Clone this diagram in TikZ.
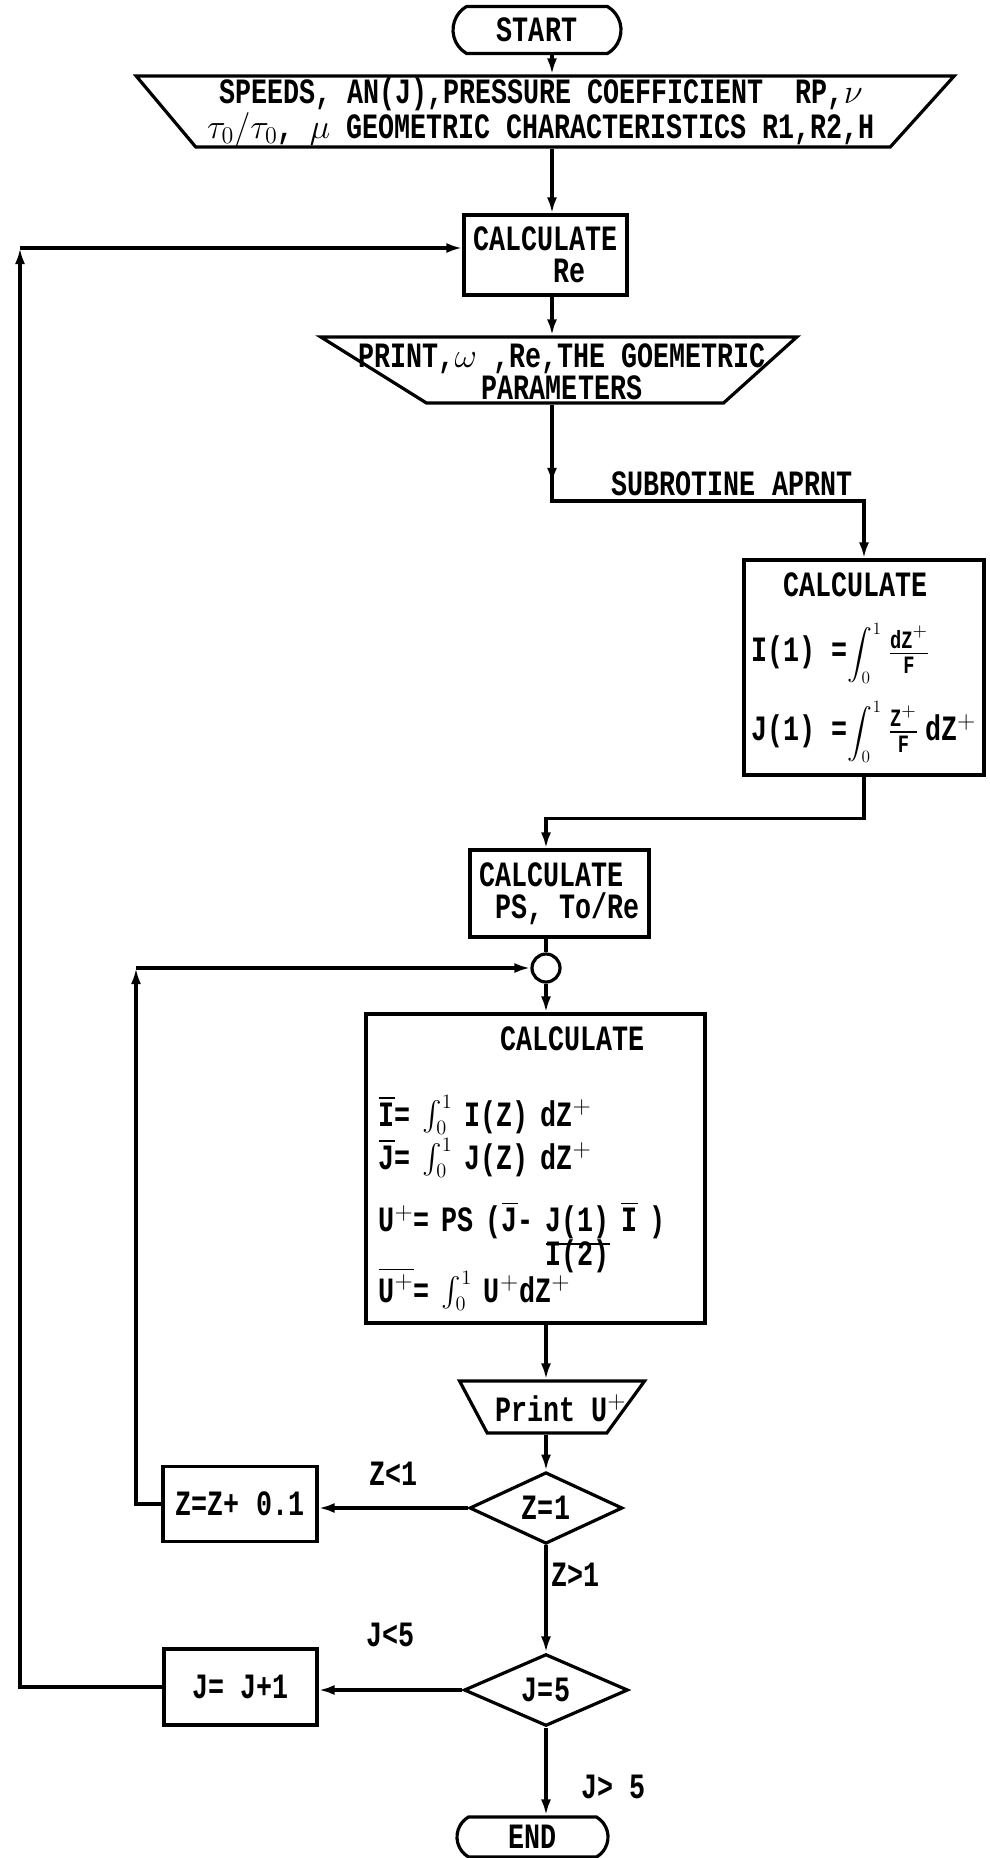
\documentclass[tikz,border=0pt]{standalone}
\usepackage{amsmath}
\usepackage{fontspec}
\setmonofont[FakeStretch=0.75]{Liberation Mono}
\usetikzlibrary{arrows.meta,positioning,calc,shapes.geometric,shapes.misc,decorations.markings}

\newcommand{\integ}[2]{$\vcenter{\hbox{\scalebox{0.72}{$\displaystyle\int_{#1}^{#2}$}}}$}
\newcommand{\sint}{\raisebox{1pt}{\scalebox{0.85}{$\int_0^1$}}}

\begin{document}
\begin{tikzpicture}[x=0.5pt, y=-0.5pt, line width=1.6pt,
  font=\ttfamily\bfseries\fontsize{17.8}{16}\selectfont,
  box/.style={draw, rectangle, inner sep=2pt},
  term/.style={draw, rounded rectangle, rounded rectangle arc length=120, inner sep=2pt},
  io/.style={draw, trapezium, shape border rotate=180, trapezium stretches body,
    inner xsep=1pt, inner ysep=0pt, text width=0pt, text height=#1, text depth=#1},
  test/.style={draw, diamond, inner sep=0pt},
  arr/.style={-{Latex[length=8pt,width=5pt]}},
  tipat/.style={postaction={decorate, decoration={markings,
      mark=at position #1 with {\arrow{Latex[length=8pt,width=5pt]}}}}}]
  \useasboundingbox (0,0) rectangle (990,1858);
  \coordinate (spine) at (552,0);
  \coordinate (spinelow) at (546,0);

  % main column, top part
  \node[term, minimum width=88pt, minimum height=23.5pt] (start) at (537,30) {START};
  \node[io=17.75pt, trapezium left angle=48, trapezium right angle=50,
        minimum width=409pt] (inp) at (543,111.5) {};
  \node[align=center] (inptxt) at (541,112.5)
    {SPEEDS, AN(J),PRESSURE COEFFICIENT~~RP,$\nu$\\$\tau_0/\tau_0$, $\mu$ GEOMETRIC CHARACTERISTICS R1,R2,H};
  \node[box, minimum width=81.5pt, minimum height=40pt, align=left] (calcre) at (545.5,255)
    {CALCULATE\\~~~~~Re};
  \node[io=16.5pt, trapezium left angle=42, trapezium right angle=32,
        minimum width=238pt] (printa) at (575,370) {};
  \node[align=center] (printatxt) at (562,372) {PRINT,$\omega$ ,Re,THE GOEMETRIC\\PARAMETERS};

  % subroutine box
  \node[box, minimum width=120pt, minimum height=107.5pt, align=left] (calci) at (864,667.5)
    {~~CALCULATE\\[12pt]
     I(1) =\integ{0}{1}\,$\frac{\texttt{dZ}^{+}}{\texttt{F}}$\\[8pt]
     J(1) =\integ{0}{1}\,$\frac{\texttt{Z}^{+}}{\texttt{F}}$\,dZ$^{+}$};

  % main column, lower part
  \node[box, minimum width=89.5pt, minimum height=43.5pt, align=left] (calcps) at (559.5,893.5)
    {CALCULATE\\~PS, To/Re};
  \node[draw, circle, minimum size=14pt, inner sep=0pt] (join) at (546,968) {};
  \node[box, minimum width=169.5pt, minimum height=154.5pt, text width=157pt, align=left] (calcu) at (535.5,1168.5)
    {\hspace*{61pt}CALCULATE\\[22pt]
     $\overline{\texttt{I}}$= \sint{} I(Z) dZ$^{+}$\\[1pt]
     $\overline{\texttt{J}}$= \sint{} J(Z) dZ$^{+}$\\[11pt]
     U$^{+}$= PS ($\overline{\texttt{J}}$- $\begin{array}[t]{@{}c@{}}\underline{\texttt{J(1)}}\\[-3pt] \texttt{I(2)}\end{array}$ $\overline{\texttt{I}}$ )\\[-5pt]
     $\overline{\texttt{U}^{+}}$= \sint{} U$^{+}$dZ$^{+}$};
  \node[io=13pt, trapezium left angle=54, trapezium right angle=62,
        minimum width=92.5pt] (printu) at (547,1407) {};
  \node (printutxt) at (561,1408) {Print U$^{+}$};
  \node[test, minimum width=76.5pt, minimum height=35pt] (zdec) at (546,1508) {Z=1};
  \node[box, minimum width=77pt, minimum height=37.5pt] (zbox) at (240,1504) {Z=Z+ 0.1};
  \node[test, minimum width=82pt, minimum height=35pt] (jdec) at (546,1690) {J=5};
  \node[box, minimum width=76.5pt, minimum height=38pt] (jbox) at (240.5,1687) {J= J+1};
  \node[term, minimum width=79.5pt, minimum height=20pt] (end) at (532.5,1837) {END};

  % connectors
  \draw[arr] (start.south -| spine) -- (spine |- inp.north);
  \draw[arr] (inp.south -| spine) -- (spine |- calcre.north);
  \draw[arr] (calcre.south -| spine) -- (spine |- printa.north);
  \coordinate (subr) at (552,501);
  \draw[arr, tipat=0.17] (printa.south -| spine) -- (subr) -| (calci.north)
    node[pos=0.49, anchor=south east, inner sep=2pt] (aprnt) {SUBROTINE APRNT};
  \draw[arr] (calci.south) -- ++(0,42) -| (spinelow |- calcps.north);
  \draw (calcps.south -| spinelow) -- (join);
  \draw[arr] (join) -- (join |- calcu.north);
  \draw[arr] (calcu.south -| spinelow) -- (spinelow |- printu.north);
  \draw[arr] (printu.south -| spinelow) -- (zdec);
  \draw[arr] (zdec.west) -- (zdec.west -| zbox.east)
    node[midway, above=9.5pt, inner sep=1pt] (zlt) {Z<1};
  \draw[arr] (zdec) -- (jdec)
    node[pos=0.27, right=1pt, inner sep=1pt] (zgt) {Z>1};
  \draw[arr] (jdec.west) -- (jdec.west -| jbox.east)
    node[midway, above=20pt, inner sep=1pt] (jlt) {J<5};
  \draw[arr] (jdec) -- (jdec |- end.north)
    node[pos=0.68, right=16pt, inner sep=1pt] (jgt) {J> 5};

  % return loops
  \coordinate (innerc) at (136,968);
  \draw[arr] (zbox.west) -| (innerc);
  \draw[arr] (innerc) -- (join);
  \coordinate (outerc) at (20,248);
  \draw[arr] (jbox.west) -| (outerc);
  \draw[arr] (outerc) -- (outerc -| calcre.west);
\end{tikzpicture}
\end{document}
